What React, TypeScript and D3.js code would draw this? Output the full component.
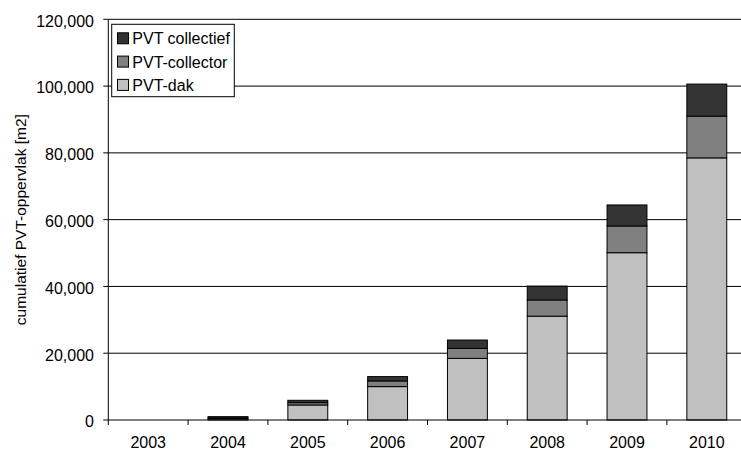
import React from "react";
import * as d3 from "d3";

const years = ["2003", "2004", "2005", "2006", "2007", "2008", "2009", "2010"];
const pvtDak = [0, 400, 4500, 10000, 18450, 31100, 50100, 78500];
const pvtCollector = [0, 200, 700, 1700, 3000, 4850, 8000, 12500];
const pvtCollectief = [0, 400, 700, 1300, 2500, 4150, 6300, 9600];
const yTicks = [0, 20000, 40000, 60000, 80000, 100000, 120000];

const seriesNames = ["PVT collectief", "PVT-collector", "PVT-dak"];
const seriesColors: Record<string, string> = {
  "PVT-dak": "#c0c0c0",
  "PVT-collector": "#808080",
  "PVT collectief": "#333333",
};

const W = 741;
const H = 452;
const plotLeft = 108.3;
const plotRight = 746.7;
const plotTop = 19.3;
const plotBottom = 420;
const font = "'Liberation Sans', Arial, sans-serif";

export default function App() {
  const x = d3
    .scaleBand<string>()
    .domain(years)
    .range([plotLeft, plotRight])
    .paddingInner(0.5)
    .paddingOuter(0.25);
  const step = x.step();
  const y = d3.scaleLinear().domain([0, 120000]).range([plotBottom, plotTop]);

  const rows = years.map((yr, i) => ({
    year: yr,
    "PVT-dak": pvtDak[i],
    "PVT-collector": pvtCollector[i],
    "PVT collectief": pvtCollectief[i],
  }));
  const stack = d3
    .stack<any>()
    .keys(["PVT-dak", "PVT-collector", "PVT collectief"]);
  const layers = stack(rows);

  const fmt = d3.format(",");

  return (
    <svg
      width={W}
      height={H}
      style={{ position: "absolute", left: 0, top: 0, background: "#fff" }}
      fontFamily={font}
    >
      {/* horizontal gridlines */}
      {yTicks
        .filter((t) => t > 0)
        .map((t) => (
          <line
            key={"g" + t}
            x1={plotLeft}
            x2={W}
            y1={y(t)}
            y2={y(t)}
            stroke="#000"
            strokeWidth={1}
          />
        ))}

      {/* stacked bars */}
      {layers.map((layer) =>
        layer.map((d, i) => {
          const h = y(d[0]) - y(d[1]);
          if (h <= 0) return null;
          return (
            <rect
              key={layer.key + i}
              x={x(years[i])!}
              y={y(d[1])}
              width={x.bandwidth()}
              height={h}
              fill={seriesColors[layer.key]}
              stroke="#000"
              strokeWidth={1}
            />
          );
        })
      )}

      {/* y axis */}
      <line x1={plotLeft} x2={plotLeft} y1={plotTop} y2={plotBottom + 5} stroke="#000" />
      {yTicks.map((t) => (
        <g key={"yt" + t}>
          <line x1={plotLeft - 5} x2={plotLeft} y1={y(t)} y2={y(t)} stroke="#000" />
          <text
            x={94}
            y={y(t) + 7.4}
            textAnchor="end"
            fontSize={16}
            fill="#000"
          >
            {fmt(t)}
          </text>
        </g>
      ))}

      {/* x axis */}
      <line x1={plotLeft} x2={W} y1={plotBottom} y2={plotBottom} stroke="#000" />
      {years.map((yr, i) => (
        <g key={"xt" + yr}>
          <line
            x1={plotLeft + (i + 1) * step}
            x2={plotLeft + (i + 1) * step}
            y1={plotBottom}
            y2={plotBottom + 5}
            stroke="#000"
          />
          <text
            x={x(yr)! + x.bandwidth() / 2}
            y={448}
            textAnchor="middle"
            fontSize={16}
            fill="#000"
          >
            {yr}
          </text>
        </g>
      ))}

      {/* y axis title */}
      <text
        transform={`translate(26,${(plotTop + plotBottom) / 2}) rotate(-90)`}
        textAnchor="middle"
        fontSize={15.5}
        fill="#000"
      >
        cumulatief PVT-oppervlak [m2]
      </text>

      {/* legend */}
      <rect x={111.7} y={24.3} width={122.6} height={72.4} fill="#fff" stroke="#000" />
      {seriesNames.map((name, i) => (
        <g key={"lg" + name}>
          <rect
            x={117.5}
            y={32.8 + i * 23.3}
            width={11}
            height={11}
            fill={seriesColors[name]}
            stroke="#000"
          />
          <text x={132.3} y={44.3 + i * 23.3} fontSize={16} fill="#000">
            {name}
          </text>
        </g>
      ))}
    </svg>
  );
}
